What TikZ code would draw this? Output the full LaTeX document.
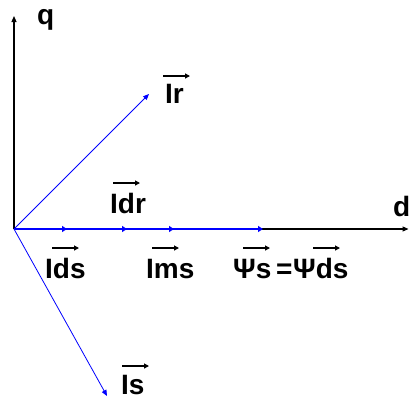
\documentclass[tikz,border=0pt]{standalone}
\usepackage{fontspec}
\setmainfont{Liberation Sans}
\usetikzlibrary{arrows.meta}

\begin{document}
\begin{tikzpicture}[x=1pt,y=-1pt,
  lbl/.style={inner sep=0pt,anchor=base west,font=\bfseries\fontsize{28}{30}\selectfont},
  axis/.style={black,line width=1.1pt,-{Triangle[length=6pt,width=5pt]}},
  bvec/.style={blue,line width=1.6pt,-{Triangle[length=5pt,width=6pt]}},
  tvec/.style={blue,line width=0.8pt,-{Triangle[length=6pt,width=5pt]}},
  ovec/.style={black,line width=1.2pt,-{Triangle[length=5pt,width=5pt]}}]
\useasboundingbox (0,0) rectangle (409,402);
% axes
\coordinate (O) at (14,229);
\coordinate (qtip) at (14,16);
\coordinate (dtip) at (408.5,229);
\draw[axis] (O) -- (qtip);
\draw[axis] (O) -- (dtip);
\node[lbl] (q) at (37,24) {q};
\node[lbl] (d) at (393,216) {d};
% vectors along d
\coordinate (ids tip) at (67,229);
\coordinate (idr tip) at (127,229);
\coordinate (ims tip) at (174,229);
\coordinate (psi tip) at (263,229);
\coordinate (ir tip) at (149,94);
\coordinate (is tip) at (107,396);
\draw[bvec] (O) -- (psi tip);
\draw[bvec] (O) -- (ims tip);
\draw[bvec] (O) -- (idr tip);
\draw[bvec] (O) -- (ids tip);
\draw[tvec] (O) -- (ir tip);
\draw[tvec] (O) -- (is tip);
% labels
\node[lbl] (ir) at (165,103) {Ir};
\node[lbl] (idr) at (110,213) {Idr};
\node[lbl] (ids) at (45,278) {Ids};
\node[lbl] (ims) at (146,278) {Ims};
\node[lbl] (psis) at (233,278) {Ψs};
\node[lbl] (eq) at (276,278) {=};
\node[lbl] (psids) at (293,278) {Ψds};
\node[lbl] (is) at (121,394) {Is};
% arrows over the labels
\foreach \n/\dx/\dy in {ir/-2/-27,idr/3/-30,ids/7/-30,ims/6/-30,psis/10/-30,psids/20/-30,is/1/-28}
  \draw[ovec] ([shift={(\dx,\dy)}]\n.base west) -- ++(27,0);
\end{tikzpicture}
\end{document}
